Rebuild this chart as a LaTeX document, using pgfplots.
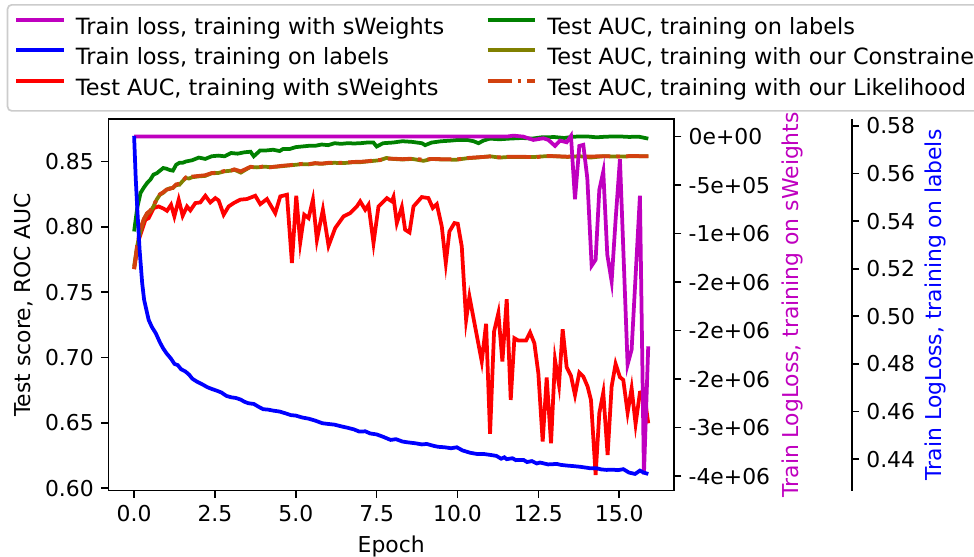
\documentclass[border=0pt,10pt]{standalone}
\usepackage{fontspec}
\setmainfont{DejaVu Sans}
\usepackage{pgfplots}
\pgfplotsset{compat=1.18}
\definecolor{mplm}{rgb}{0.75,0,0.75}
\definecolor{mplg}{rgb}{0,0.5,0}
\definecolor{mplolive}{rgb}{0.5,0.5,0}
\definecolor{mplorange}{RGB}{210,65,15}
\definecolor{legframe}{gray}{0.8}
\newcommand\figfont{\fontsize{10.5}{12.6}\selectfont}
\newcommand\legfont{\fontsize{10.75}{12.9}\selectfont}
\pgfplotsset{
  common/.style={width=271.5pt,height=178.3pt,scale only axis,
    xmin=-0.795,xmax=16.695,
    tick align=outside, major tick length=3.5pt,
    tick style={line width=0.8pt,black},
    axis line style={line width=0.8pt},
    /pgf/number format/assume math mode=true,
    tick label style={font=\figfont},
    label style={font=\figfont},
  },
}
\begin{document}
\begin{tikzpicture}
\begin{axis}[common, name=main,
  ymin=0.5982, ymax=0.8824,
  tick pos=left,
  xtick={0,2.5,5,7.5,10,12.5,15},
  ytick={0.60,0.65,0.70,0.75,0.80,0.85},
  xticklabel style={/pgf/number format/.cd,fixed,fixed zerofill,precision=1},
  yticklabel style={/pgf/number format/.cd,fixed,fixed zerofill,precision=2},
  xlabel={Epoch}, ylabel={Test score, ROC AUC}, ylabel style={xshift=0pt,yshift=-1pt},
  legend columns=2, legend cell align=left,
  legend image code/.code={\draw[#1] (0pt,3.6pt) -- (22.8pt,3.6pt);},
  legend style={at={(-0.1797,1.310)}, anchor=north west, draw=legframe, line width=0.8pt,
    rounded corners=2pt, fill=white, inner xsep=3.2pt, inner ysep=6pt, row sep=5.2pt,
    font=\legfont, nodes={inner sep=0pt},
    /tikz/every odd column/.append style={column sep=5pt},
    /tikz/every even column/.append style={column sep=20pt, text height=8pt, text depth=2.6pt}},
]
\addlegendimage{mplm, line width=1.8pt, rounded corners=0pt}
\addlegendentry{Train loss, training with sWeights}
\addlegendimage{mplg, line width=1.8pt, rounded corners=0pt}
\addlegendentry{Test AUC, training on labels}
\addlegendimage{blue, line width=1.8pt, rounded corners=0pt}
\addlegendentry{Train loss, training on labels}
\addlegendimage{mplolive, line width=1.8pt, rounded corners=0pt}
\addlegendentry{Test AUC, training with our Constrained}
\addlegendimage{red, line width=1.8pt, rounded corners=0pt}
\addlegendentry{Test AUC, training with sWeights}
\addlegendimage{mplorange, line width=1.8pt, rounded corners=0pt, dash pattern=on 11.5pt off 2.9pt on 1.8pt off 2.9pt}
\addlegendentry{Test AUC, training with our Likelihood}

% Test AUC, training with sWeights
\addplot[red, line width=1.8pt, forget plot] coordinates {
(0,0.7677) (0.143,0.7901) (0.349,0.8054) (0.452,0.8067) (0.606,0.8144) (0.761,0.8156)
(0.915,0.8139) (1.018,0.8123) (1.142,0.8169) (1.245,0.8080) (1.379,0.8208) (1.502,0.8085)
(1.636,0.8156) (1.739,0.8126) (1.894,0.8182) (2.048,0.8187) (2.203,0.8238) (2.357,0.8187)
(2.512,0.8220) (2.614,0.8202) (2.769,0.8093) (2.923,0.8156) (3.1,0.8185) (3.284,0.8208)
(3.490,0.8213) (3.747,0.8238) (3.902,0.8174) (4.108,0.8213) (4.365,0.8105) (4.520,0.8233)
(4.726,0.8246) (4.880,0.7723) (5.014,0.8238) (5.137,0.7881) (5.261,0.8093) (5.395,0.8067)
(5.529,0.8208) (5.652,0.7901) (5.838,0.8131) (6.013,0.7855) (6.219,0.7991) (6.476,0.8080)
(6.682,0.8105) (6.888,0.8156) (6.991,0.8195) (7.146,0.8131) (7.248,0.8169) (7.403,0.7876)
(7.557,0.8156) (7.815,0.8220) (7.969,0.8195) (8.021,0.8228) (8.124,0.8029) (8.278,0.8151)
(8.381,0.7978) (8.515,0.7957) (8.639,0.8156) (8.896,0.8228) (9.102,0.8220) (9.236,0.8144)
(9.360,0.8174) (9.514,0.8003) (9.638,0.7723) (9.751,0.7965) (9.905,0.8029) (10.008,0.8024)
(10.132,0.7850) (10.266,0.7289) (10.369,0.7467) (10.544,0.7238) (10.750,0.6970) (10.884,0.7258)
(11.007,0.6416) (11.131,0.7199) (11.264,0.7340) (11.388,0.6970) (11.522,0.7447) (11.646,0.6676)
(11.759,0.7148) (11.882,0.7130) (12.119,0.7130) (12.243,0.7192) (12.377,0.7110) (12.500,0.6880)
(12.634,0.6357) (12.758,0.6847) (12.892,0.6344) (13.015,0.6982) (13.139,0.6791) (13.252,0.7217)
(13.376,0.6926) (13.509,0.6860) (13.633,0.6714) (13.767,0.6885) (13.890,0.6855) (14.024,0.6778)
(14.127,0.6676) (14.271,0.6102) (14.385,0.6574) (14.508,0.6732) (14.642,0.6255) (14.766,0.6778)
(14.889,0.6952) (15.023,0.6850) (15.126,0.6829) (15.260,0.6579) (15.384,0.6765) (15.507,0.6492)
(15.641,0.6732) (15.765,0.6740) (15.898,0.6497)
};
% Test AUC, training on labels
\addplot[mplg, line width=1.8pt, forget plot] coordinates {
(0,0.7965) (0.1,0.815) (0.2,0.826) (0.3,0.830) (0.4,0.8335) (0.5,0.836) (0.6,0.840) (0.7,0.841)
(0.8,0.843) (0.9,0.845) (1.0,0.8445) (1.1,0.8435) (1.2,0.843) (1.3,0.8475) (1.4,0.849) (1.5,0.849)
(1.6,0.850) (1.8,0.851) (2.0,0.853) (2.2,0.852) (2.4,0.854) (2.6,0.8545) (2.8,0.854) (3.0,0.8565)
(3.2,0.856) (3.4,0.857) (3.6,0.8575) (3.7,0.854) (3.9,0.8585) (4.1,0.8585) (4.3,0.859) (4.5,0.858)
(4.6,0.8595) (4.8,0.8595) (5.0,0.861) (5.2,0.8615) (5.4,0.862) (5.6,0.862) (5.8,0.863) (6.0,0.8625)
(6.2,0.864) (6.4,0.8635) (6.6,0.864) (6.8,0.8638) (7.0,0.864) (7.2,0.8645) (7.4,0.8645) (7.5,0.8615)
(7.7,0.864) (8.0,0.8645) (8.3,0.8655) (8.6,0.865) (8.9,0.864) (9.0,0.8625) (9.2,0.8645) (9.5,0.8655)
(9.8,0.866) (10.0,0.8665) (10.3,0.8665) (10.5,0.8655) (10.65,0.864) (10.8,0.866) (11.0,0.8675)
(11.3,0.867) (11.6,0.8675) (12.0,0.868) (12.3,0.8675) (12.6,0.8685) (13.0,0.8687) (13.3,0.868)
(13.6,0.869) (14.0,0.8692) (14.3,0.8685) (14.6,0.869) (15.0,0.8692) (15.3,0.8688) (15.6,0.869)
(15.9,0.8675)
};
% Test AUC, training with our Constrained
\addplot[mplolive, line width=1.8pt, forget plot] coordinates {
(0,0.7697) (0.1,0.786) (0.2,0.797) (0.3,0.8055) (0.4,0.810) (0.5,0.8118) (0.6,0.8156) (0.7,0.821)
(0.8,0.8246) (0.9,0.826) (1.0,0.8284) (1.1,0.8295) (1.2,0.8297) (1.3,0.832) (1.4,0.8322) (1.5,0.835)
(1.6,0.8374) (1.7,0.837) (1.8,0.838) (2.0,0.8386) (2.2,0.839) (2.4,0.841) (2.6,0.8412) (2.8,0.8425)
(3.0,0.843) (3.1,0.8437) (3.3,0.8415) (3.5,0.8445) (3.6,0.8458) (3.8,0.8455) (4.0,0.846) (4.2,0.8458)
(4.4,0.846) (4.6,0.8465) (4.8,0.847) (5.0,0.8475) (5.2,0.848) (5.4,0.8478) (5.6,0.8485) (5.8,0.8482)
(6.0,0.8488) (6.2,0.849) (6.4,0.8488) (6.6,0.849) (6.8,0.8495) (7.0,0.8495) (7.2,0.850) (7.4,0.8505)
(7.6,0.851) (7.8,0.8527) (8.0,0.852) (8.3,0.8515) (8.6,0.852) (8.95,0.8505) (9.2,0.852) (9.5,0.8515)
(9.98,0.8514) (10.3,0.8525) (10.6,0.853) (11.0,0.854) (11.3,0.853) (11.6,0.8535) (12.0,0.8535)
(12.4,0.8535) (12.7,0.854) (13.0,0.854) (13.4,0.8535) (13.8,0.854) (14.1,0.853) (14.5,0.854)
(15.0,0.8538) (15.4,0.854) (15.9,0.854)
};
% Test AUC, training with our Likelihood
\addplot[mplorange, line width=1.8pt, forget plot, dash pattern=on 11.5pt off 2.9pt on 1.8pt off 2.9pt] coordinates {
(0,0.7677) (0.1,0.787) (0.2,0.799) (0.3,0.806) (0.4,0.8105) (0.5,0.8125) (0.6,0.816) (0.7,0.8215)
(0.8,0.825) (0.9,0.8265) (1.0,0.8285) (1.1,0.829) (1.2,0.830) (1.3,0.8325) (1.4,0.833) (1.5,0.8355)
(1.6,0.8378) (1.7,0.8372) (1.8,0.8385) (2.0,0.839) (2.2,0.8395) (2.4,0.8412) (2.6,0.8415) (2.8,0.8428)
(3.0,0.8432) (3.1,0.844) (3.3,0.8425) (3.5,0.8448) (3.6,0.846) (3.8,0.8452) (4.0,0.8463) (4.2,0.8455)
(4.4,0.8462) (4.6,0.8468) (4.8,0.8472) (5.0,0.8478) (5.2,0.8482) (5.4,0.848) (5.6,0.8488) (5.8,0.8484)
(6.0,0.849) (6.2,0.8492) (6.4,0.849) (6.6,0.8493) (6.8,0.8497) (7.0,0.8498) (7.2,0.8502) (7.4,0.8508)
(7.6,0.8512) (7.8,0.8522) (8.0,0.8522) (8.3,0.8518) (8.6,0.8522) (8.95,0.8514) (9.2,0.852) (9.5,0.8518)
(9.98,0.8516) (10.3,0.8527) (10.6,0.8532) (11.0,0.8538) (11.3,0.8532) (11.6,0.8537) (12.0,0.8537)
(12.4,0.8532) (12.7,0.8542) (13.0,0.8541) (13.4,0.8537) (13.8,0.8542) (14.1,0.8538) (14.5,0.8541)
(15.0,0.8539) (15.4,0.8542) (15.9,0.854)
};
\end{axis}

% Train loss, training with sWeights (values in units of 1e6)
\begin{axis}[common,
  ymin=-3.65, ymax=0.18,
  axis x line=none, axis y line*=right,
  ytick={0,-0.5,-1,-1.5,-2,-2.5,-3,-3.5},
  yticklabels={0e+00,-5e+05,-1e+06,-2e+06,-2e+06,-2e+06,-3e+06,-4e+06},
  ylabel={Train LogLoss, training on sWeights}, ylabel style={color=mplm, yshift=1.2pt},
]
\addplot[mplm, line width=1.8pt] coordinates {
(0,0) (11.52,0) (11.728,0.01) (12.037,0) (12.346,-0.034) (12.655,-0.017) (12.809,-0.034)
(13.015,-0.096) (13.170,-0.041) (13.376,-0.058) (13.509,0.007) (13.633,-0.645) (13.767,-0.096)
(13.890,-0.085) (14.014,-0.429) (14.148,-1.331) (14.271,-1.269) (14.385,-0.549) (14.508,-0.360)
(14.632,-1.218) (14.766,-1.492) (14.889,-0.858) (15.023,-0.233) (15.260,-2.350) (15.384,-2.196)
(15.641,-0.610) (15.765,-3.483) (15.898,-2.162)
};
\end{axis}

% Train loss, training on labels
\begin{axis}[common, hide axis, ymin=0.4268, ymax=0.5828]
\addplot[blue, line width=1.8pt] coordinates {
(0,0.5758) (0.05,0.558) (0.1,0.5447) (0.17,0.5279) (0.25,0.5139) (0.31,0.5069) (0.35,0.5045)
(0.45,0.4985) (0.55,0.4955) (0.67,0.4929) (0.8,0.489) (0.9,0.4865) (1.0,0.4845) (1.13,0.4824)
(1.25,0.480) (1.35,0.4795) (1.45,0.4778) (1.59,0.4768) (1.7,0.4755) (1.8,0.4738) (1.95,0.4725)
(2.1,0.4715) (2.27,0.4702) (2.4,0.4695) (2.55,0.4688) (2.7,0.4680) (2.85,0.4666) (3.0,0.4660)
(3.15,0.4657) (3.3,0.4650) (3.4,0.4642) (3.53,0.4635) (3.7,0.4632) (3.85,0.4620) (3.99,0.4610)
(4.15,0.4608) (4.3,0.4604) (4.5,0.4600) (4.67,0.4593) (4.85,0.4585) (5.0,0.4583) (5.2,0.4575)
(5.4,0.4570) (5.6,0.4562) (5.82,0.4551) (6.0,0.4548) (6.2,0.4545) (6.4,0.4538) (6.6,0.4532)
(6.8,0.4525) (6.96,0.4516) (7.15,0.4517) (7.3,0.4508) (7.5,0.4504) (7.7,0.4494) (7.93,0.4481)
(8.1,0.4484) (8.3,0.4474) (8.5,0.4470) (8.69,0.4467) (8.9,0.4462) (9.05,0.4464) (9.26,0.4456)
(9.4,0.4452) (9.6,0.4450) (9.8,0.4446) (9.98,0.4450) (10.15,0.4437) (10.39,0.4427) (10.6,0.4422)
(10.8,0.4422) (11.01,0.4418) (11.2,0.4414) (11.35,0.4402) (11.45,0.4408) (11.52,0.4400) (11.7,0.4404)
(11.8,0.4396) (12.04,0.4397) (12.15,0.4388) (12.3,0.4392) (12.45,0.4382) (12.55,0.4386) (12.8,0.4378)
(13.07,0.4380) (13.2,0.4376) (13.4,0.4373) (13.58,0.4371) (13.8,0.4368) (14.1,0.4362) (14.3,0.4362)
(14.45,0.4357) (14.61,0.4355) (14.8,0.4356) (14.96,0.4354) (15.13,0.4358) (15.3,0.4344) (15.49,0.4338)
(15.64,0.4352) (15.75,0.4344) (15.9,0.4338)
};
\end{axis}

% offset spine for the labels loss
\begin{axis}[common, at={(85.3pt,0pt)}, anchor=south west, ymin=0.4268, ymax=0.5828,
  axis x line=none, axis y line*=right,
  ytick={0.44,0.46,0.48,0.50,0.52,0.54,0.56,0.58},
  yticklabel style={/pgf/number format/.cd,fixed,fixed zerofill,precision=2},
  ylabel={Train LogLoss, training on labels}, ylabel style={color=blue, yshift=2pt},
]
\addplot[draw=none] coordinates {(0,0.5)};
\end{axis}

\pgfresetboundingbox
\useasboundingbox (-52.03pt,-31.8pt) rectangle (415.5pt,235.5pt);
\end{tikzpicture}
\end{document}
